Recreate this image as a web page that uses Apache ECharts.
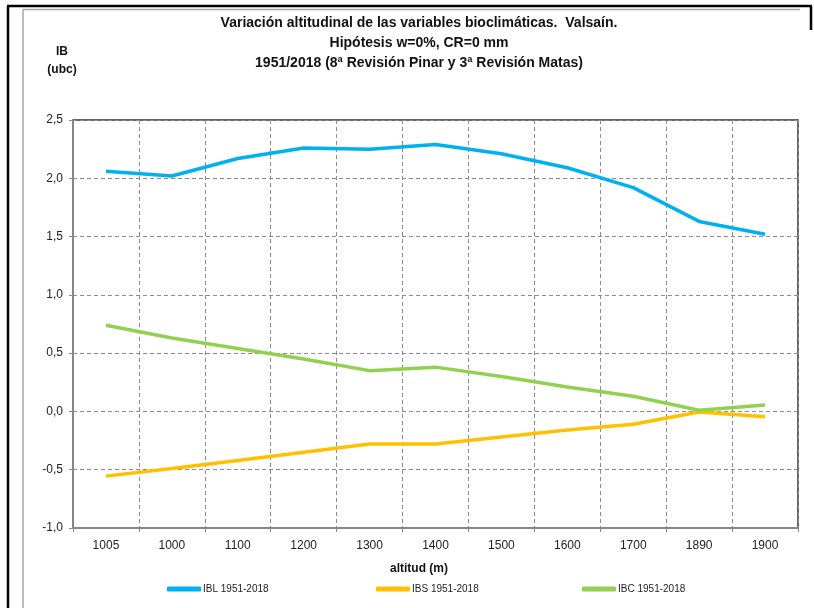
<!DOCTYPE html>
<html>
<head>
<meta charset="utf-8">
<script src="https://cdn.jsdelivr.net/npm/echarts@6/dist/echarts.min.js"></script>
<style>
  html, body { margin: 0; padding: 0; background: #fff; }
  #chart { width: 814px; height: 608px; }
</style>
</head>
<body>
<div id="chart"></div>
<script>
// altitudes (categorias del eje x)
const altitudes = ['1005', '1000', '1100', '1200', '1300', '1400', '1500', '1600', '1700', '1890', '1900']
const ibl = [2.06, 2.02, 2.17, 2.26, 2.25, 2.29, 2.21, 2.09, 1.92, 1.63, 1.52]
const ibs = [-0.555, -0.49, -0.42, -0.35, -0.28, -0.28, -0.22, -0.16, -0.11, -0.005, -0.045]
const ibc = [0.74, 0.63, 0.54, 0.45, 0.35, 0.38, 0.30, 0.21, 0.13, 0.01, 0.055]
const seriesNames = ['IBL 1951-2018', 'IBS 1951-2018', 'IBC 1951-2018']
const colors = ['#00B0F0', '#FFC000', '#92D050']

const font = 'Liberation Sans, Arial, sans-serif'
const myChart = echarts.init(document.getElementById('chart'))

function legendAt (name, x) {
  return {
    data: [name],
    left: x,
    top: 584,
    padding: 0,
    icon: 'roundRect',
    itemWidth: 34,
    itemHeight: 5,
    itemGap: 3,
    textStyle: { fontFamily: font, fontSize: 10, color: '#222', padding: [0, 0, 0, -3] }
  }
}

myChart.setOption({
  animation: false,
  color: colors,
  title: [
    {
      text: 'Variación altitudinal de las variables bioclimáticas.  Valsaín.\nHipótesis w=0%, CR=0 mm\n1951/2018 (8ª Revisión Pinar y 3ª Revisión Matas)',
      left: 414,
      top: 8,
      textAlign: 'center',
      textStyle: { fontFamily: font, fontSize: 14, fontWeight: 'bold', color: '#111', lineHeight: 20 }
    },
    {
      text: 'IB\n(ubc)',
      left: 57,
      top: 38,
      textAlign: 'center',
      textStyle: { fontFamily: font, fontSize: 12, fontWeight: 'bold', color: '#111', lineHeight: 18 }
    },
    {
      text: 'altitud (m)',
      left: 414,
      top: 558,
      textAlign: 'center',
      textStyle: { fontFamily: font, fontSize: 12, fontWeight: 'bold', color: '#111' }
    }
  ],
  legend: [
    legendAt(seriesNames[0], 167),
    legendAt(seriesNames[1], 376),
    legendAt(seriesNames[2], 582)
  ],
  grid: {
    left: 73,
    right: 16,
    top: 120,
    bottom: 80,
    show: true,
    borderColor: '#333',
    borderWidth: 1.5
  },
  xAxis: {
    type: 'category',
    data: altitudes,
    boundaryGap: true,
    axisLine: { onZero: false, lineStyle: { color: '#868686', width: 2 } },
    axisTick: { show: true, length: 4, lineStyle: { color: '#868686' } },
    axisLabel: { fontFamily: font, fontSize: 12, color: '#222', margin: 12 },
    splitLine: { show: true, lineStyle: { color: '#8c8c8c', type: [4, 3] } }
  },
  yAxis: {
    type: 'value',
    min: -1,
    max: 2.5,
    interval: 0.5,
    axisLine: { show: true, lineStyle: { color: '#868686', width: 2 } },
    axisTick: { show: true, length: 4, lineStyle: { color: '#868686' } },
    axisLabel: {
      fontFamily: font,
      fontSize: 12,
      color: '#222',
      margin: 10,
      formatter: function (v) { return v.toFixed(1).replace('.', ',') }
    },
    splitLine: { show: true, lineStyle: { color: '#8c8c8c', type: [4, 3] } }
  },
  graphic: [
    { type: 'line', shape: { x1: 7, y1: 6, x2: 812, y2: 6 }, style: { stroke: '#000', lineWidth: 2.5 } },
    { type: 'line', shape: { x1: 8, y1: 6, x2: 8, y2: 608 }, style: { stroke: '#000', lineWidth: 2.5 } },
    { type: 'line', shape: { x1: 811, y1: 6, x2: 811, y2: 30 }, style: { stroke: '#000', lineWidth: 2.5 } },
    { type: 'line', shape: { x1: 23, y1: 9.5, x2: 800, y2: 9.5 }, style: { stroke: '#a6a6a6', lineWidth: 1.5 } },
    { type: 'line', shape: { x1: 23, y1: 9.5, x2: 23, y2: 608 }, style: { stroke: '#a6a6a6', lineWidth: 1.5 } }
  ],
  series: [
    { name: seriesNames[0], type: 'line', data: ibl, symbol: 'none', lineStyle: { width: 3.5, color: colors[0] } },
    { name: seriesNames[1], type: 'line', data: ibs, symbol: 'none', lineStyle: { width: 3.5, color: colors[1] } },
    { name: seriesNames[2], type: 'line', data: ibc, symbol: 'none', lineStyle: { width: 3.5, color: colors[2] } }
  ]
})
</script>
</body>
</html>
